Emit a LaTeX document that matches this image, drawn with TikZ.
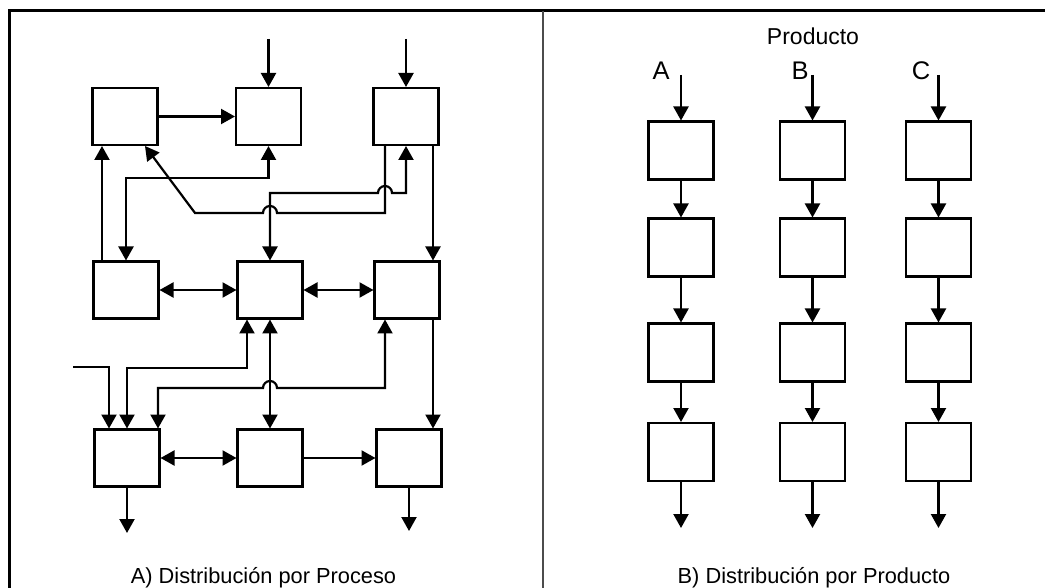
\documentclass[tikz,border=0pt]{standalone}
\usepackage{fontspec}
\setmainfont{Liberation Sans}
\usetikzlibrary{arrows.meta}
\begin{document}
\begin{tikzpicture}[x=1pt,y=-1pt,
  line width=2.2pt, line join=miter,
  box/.style={draw, line width=2.2pt, minimum width=65pt, minimum height=57pt,
    inner sep=0pt, outer sep=1pt, fill=white},
  boxb/.style={box, minimum height=58pt},
  head/.tip={Triangle[width=15pt,length=14pt]},
  fwd/.style={-{head}},
  both/.style={{head}-{head}},
  lbl/.style={inner sep=0pt, anchor=base}]
\useasboundingbox (0,0) rectangle (1045,588);

% frame and divider
\draw[line width=3pt] (9.5,588) -- (9.5,11) -- (1045,11);
\draw[line width=2pt, black!70] (543,11) -- (543,588);

% ---------- A) process layout ----------
\node[box] (p1) at (125,116.5) {};
\node[box] (p2) at (268.5,116.5) {};
\node[box] (p3) at (406,116.5) {};
\node[box] (p4) at (126,290) {};
\node[box] (p5) at (270,290) {};
\node[box] (p6) at (407,290) {};
\node[box] (p7) at (127,458) {};
\node[box] (p8) at (270,458) {};
\node[box] (p9) at (409,458) {};

% incoming material
\coordinate (src2) at (268.5,39);
\coordinate (src3) at (406,39);
\draw[fwd] (src2) -- (p2.north);
\draw[fwd] (src3) -- (p3.north);
\coordinate (ext) at (73,367);
\coordinate (a9) at ([xshift=-18pt]p7.north);
\draw[fwd] (ext) -| (a9);

% top row
\draw[fwd] (p1.east) -- (p2.west);
\coordinate (a1) at ([xshift=-24pt]p4.north);
\draw[fwd] (a1) -- (a1 |- p1.south);
\coordinate (r1) at (0,178);
\draw[both] (p2.south) -- (p2.south |- r1) -| (p4.north);
\draw[both] (p5.north) -- (270,193) -- (378,193)
  arc[start angle=180, end angle=360, radius=7] -- (406,193) -- (p3.south);
\coordinate (a3) at ([xshift=-21pt]p3.south);
\coordinate (a4) at ([xshift=20pt]p1.south);
\draw[fwd] (a3) -- (385,213) -- (277,213)
  arc[start angle=0, end angle=-180, radius=7] -- (195,213) -- (a4);
\coordinate (a5) at ([xshift=27pt]p3.south);
\draw[fwd] (a5) -- (a5 |- p6.north);

% middle row
\draw[both] (p4.east) -- (p5.west);
\draw[both] (p5.east) -- (p6.west);
\coordinate (a6) at ([xshift=-23pt]p5.south);
\draw[both] (a6) -- (247,368) -| (p7.north);
\draw[both] (p5.south) -- (p8.north);
\coordinate (a7) at ([xshift=-22pt]p6.south);
\coordinate (a8) at ([xshift=31pt]p7.north);
\draw[both] (a7) -- (385,388) -- (277,388)
  arc[start angle=0, end angle=-180, radius=7] -- (158,388) -- (a8);
\coordinate (a10) at ([xshift=26pt]p6.south);
\draw[fwd] (a10) -- (a10 |- p9.north);

% bottom row
\draw[both] (p7.east) -- (p8.west);
\draw[fwd] (p8.east) -- (p9.west);
\coordinate (o1) at (127,533);
\coordinate (o2) at (409,531);
\draw[fwd] (p7.south) -- (o1);
\draw[fwd] (p9.south) -- (o2);

\node[lbl, font=\fontsize{21.8}{22}\selectfont] (capA) at (263.5,583) {A) Distribución por Proceso};

% ---------- B) product layout ----------
\foreach \c/\cx in {A/681, B/812.5, C/938.5} {
  \foreach \r/\cy in {1/150.5, 2/247.5, 3/352.5, 4/452}
    \node[boxb] (\c\r) at (\cx,\cy) {};
  \coordinate (in\c) at (\cx,75);
  \coordinate (out\c) at (\cx,528);
  \draw[fwd] (in\c) -- (\c1.north);
  \draw[fwd] (\c1.south) -- (\c2.north);
  \draw[fwd] (\c2.south) -- (\c3.north);
  \draw[fwd] (\c3.south) -- (\c4.north);
  \draw[fwd] (\c4.south) -- (out\c);
}
\node[lbl, font=\fontsize{23}{23}\selectfont] (prod) at (813,45) {Producto};
\node[lbl, font=\fontsize{25.5}{25}\selectfont] (lA) at (661,80) {A};
\node[lbl, font=\fontsize{25.5}{25}\selectfont] (lB) at (800,80) {B};
\node[lbl, font=\fontsize{25.5}{25}\selectfont] (lC) at (921,80) {C};
\node[lbl, font=\fontsize{21.8}{22}\selectfont] (capB) at (814,583) {B) Distribución por Producto};
\end{tikzpicture}
\end{document}
